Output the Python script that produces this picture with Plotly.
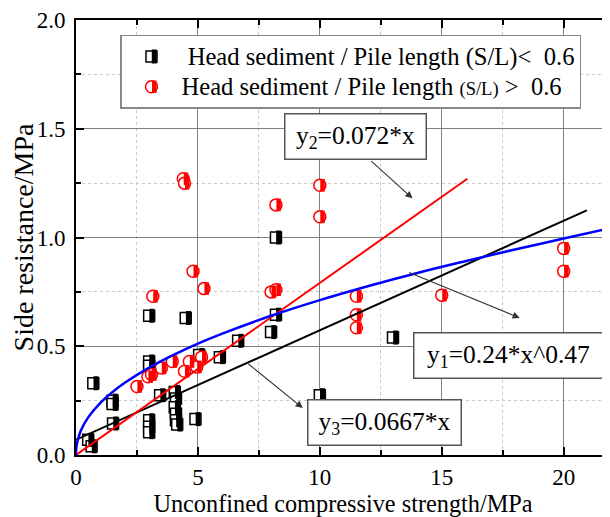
import plotly.graph_objects as go

# ---- data ----
sq_x = [0.5, 0.64, 0.71, 1.5, 1.5, 1.52, 3.0, 3.0, 3.0, 3.0, 3.0, 3.0, 3.45,
        4.05, 4.1, 4.05, 4.1, 4.1, 4.15, 4.5, 4.9, 5.05, 5.9, 6.65, 8.0, 8.2,
        8.2, 10.0, 13.0]
sq_y = [0.07, 0.04, 0.33, 0.25, 0.235, 0.145, 0.64, 0.43, 0.41, 0.16, 0.13,
        0.105, 0.275, 0.29, 0.26, 0.22, 0.19, 0.16, 0.14, 0.63, 0.165, 0.46,
        0.45, 0.525, 0.565, 0.645, 1.0, 0.275, 0.54]

ci_x = [2.5, 2.95, 3.1, 3.15, 3.5, 3.95, 4.45, 4.4, 4.45, 4.65, 4.8, 4.95,
        5.15, 5.25, 8.0, 8.2, 8.2, 10.0, 10.0, 11.5, 11.5, 11.5, 15.0, 20.0, 20.0]
ci_y = [0.315, 0.36, 0.37, 0.73, 0.40, 0.43, 0.385, 1.27, 1.25, 0.43, 0.845,
        0.405, 0.45, 0.765, 0.75, 0.76, 1.15, 1.24, 1.095, 0.73, 0.645, 0.585,
        0.735, 0.95, 0.845]

# fitted curves
pow_x = [0, 0.01, 0.05, 0.2, 0.5, 1, 1.5, 2, 3, 4, 5, 6, 8, 10, 12, 14, 16, 18, 20, 22]
pow_y = [0, 0.028, 0.059, 0.113, 0.173, 0.24, 0.29, 0.332, 0.402, 0.46, 0.512,
         0.558, 0.64, 0.712, 0.777, 0.837, 0.892, 0.945, 0.995, 1.045]
red_x = [0, 16.05]
red_y = [0, 1.27]
blk_x = [-0.3, 20.95]
blk_y = [0.055, 1.125]

x_ticks = [0, 5, 10, 15, 20]
y_ticks = [0.0, 0.5, 1.0, 1.5, 2.0]

LEGFS = "24.6px"
name1 = (f"<span style='font-size:{LEGFS}'>&nbsp;Head sediment / Pile length "
         "(S/L)&lt; &nbsp;0.6</span>")
name2 = (f"<span style='font-size:{LEGFS}'>Head sediment / Pile length "
         "<span style='font-size:18.5px'>(S/L)</span> &gt; &nbsp;0.6</span>")

FONT = "Liberation Serif"
half = 0.11  # data-unit shift of the filled half of each marker

fig = go.Figure()

fig.add_trace(go.Scatter(x=sq_x, y=sq_y, mode="markers", name=name1,
                         marker=dict(symbol="square", size=11, color="white",
                                     line=dict(color="black", width=1.5))))
fig.add_trace(go.Scatter(x=[v + half for v in sq_x], y=sq_y, mode="markers",
                         name=name1, legend="legend2",
                         marker=dict(symbol="line-ns", size=10,
                                     line=dict(color="black", width=5))))
fig.add_trace(go.Scatter(x=ci_x, y=ci_y, mode="markers", name=name2,
                         marker=dict(symbol="circle", size=12, color="white",
                                     line=dict(color="red", width=1.5))))
fig.add_trace(go.Scatter(x=[v + half for v in ci_x], y=ci_y, mode="markers",
                         name=name2, legend="legend2",
                         marker=dict(symbol="line-ns", size=9,
                                     line=dict(color="red", width=4.5))))

fig.add_trace(go.Scatter(x=blk_x, y=blk_y, mode="lines", showlegend=False,
                         line=dict(color="black", width=2)))
fig.add_trace(go.Scatter(x=red_x, y=red_y, mode="lines", showlegend=False,
                         line=dict(color="red", width=2)))
fig.add_trace(go.Scatter(x=pow_x, y=pow_y, mode="lines", showlegend=False,
                         line=dict(color="blue", width=2.5, shape="spline")))

box = dict(showarrow=False, bgcolor="white", bordercolor="#555555",
           borderwidth=1.5, borderpad=6, font=dict(family=FONT, size=25.5, color="black"),
           xref="x", yref="y")
fig.add_annotation(text="y<sub>2</sub>=0.072*x", x=11.45, y=1.465, width=128, **box)
fig.add_annotation(text="y<sub>1</sub>=0.24*x^0.47", x=17.75, y=0.458, width=176, **box)
fig.add_annotation(text="y<sub>3</sub>=0.0667*x", x=12.66, y=0.15, width=140, **box)

arr = dict(text="", showarrow=True, arrowhead=2, arrowsize=1.3, arrowwidth=1.1,
           arrowcolor="#333333", xref="x", yref="y", axref="x", ayref="y")
fig.add_annotation(x=13.8, y=1.18, ax=12.05, ay=1.357, **arr)
fig.add_annotation(x=18.2, y=0.63, ax=13.6, ay=0.842, **arr)
fig.add_annotation(x=9.3, y=0.216, ax=7.0, ay=0.425, **arr)

axis_common = dict(showline=True, linecolor="black", linewidth=2, mirror="ticks",
                   ticks="inside", ticklen=8, tickwidth=1.5, tickcolor="black",
                   showgrid=True, gridcolor="#808080", gridwidth=1, zeroline=False,
                   automargin=False,
                   tickfont=dict(family=FONT, size=23, color="black"))

fig.update_xaxes(range=[0, 21.9], tickvals=x_ticks, **axis_common,
                 minor=dict(dtick=2.5, ticks="inside", ticklen=5, tickcolor="black",
                            showgrid=True, gridcolor="#c8c8c8", griddash="dot"),
                 title=dict(text="Unconfined compressive strength/MPa",
                            font=dict(family=FONT, size=24.3, color="black"), standoff=0))
fig.update_yaxes(range=[0, 2.0], tickvals=y_ticks, tickformat=".1f", **axis_common,
                 ticklabelstandoff=4,
                 minor=dict(dtick=0.25, ticks="inside", ticklen=5, tickcolor="black",
                            showgrid=True, gridcolor="#c8c8c8", griddash="dot"),
                 title=dict(text="Side resistance/MPa",
                            font=dict(family=FONT, size=28, color="black"), standoff=4))

leg = dict(x=0.0824, y=0.966, xanchor="left", yanchor="top", borderwidth=1.5,
           itemwidth=50, tracegroupgap=0)
# page body keeps the browser's 8px margin, so the figure is 8px smaller
fig.update_layout(
    width=602, height=509,
    margin=dict(l=68, r=0, t=12, b=62),
    paper_bgcolor="white", plot_bgcolor="white",
    font=dict(family=FONT, color="black"),
    legend=dict(**leg, bgcolor="white", bordercolor="#888888",
                font=dict(family=FONT, size=21, color="black")),
    legend2=dict(**{**leg, "x": leg["x"] + 0.0052}, bgcolor="rgba(0,0,0,0)",
                 bordercolor="rgba(0,0,0,0)",
                 font=dict(family=FONT, size=21, color="rgba(0,0,0,0)")),
)

fig.write_html("out.html")
